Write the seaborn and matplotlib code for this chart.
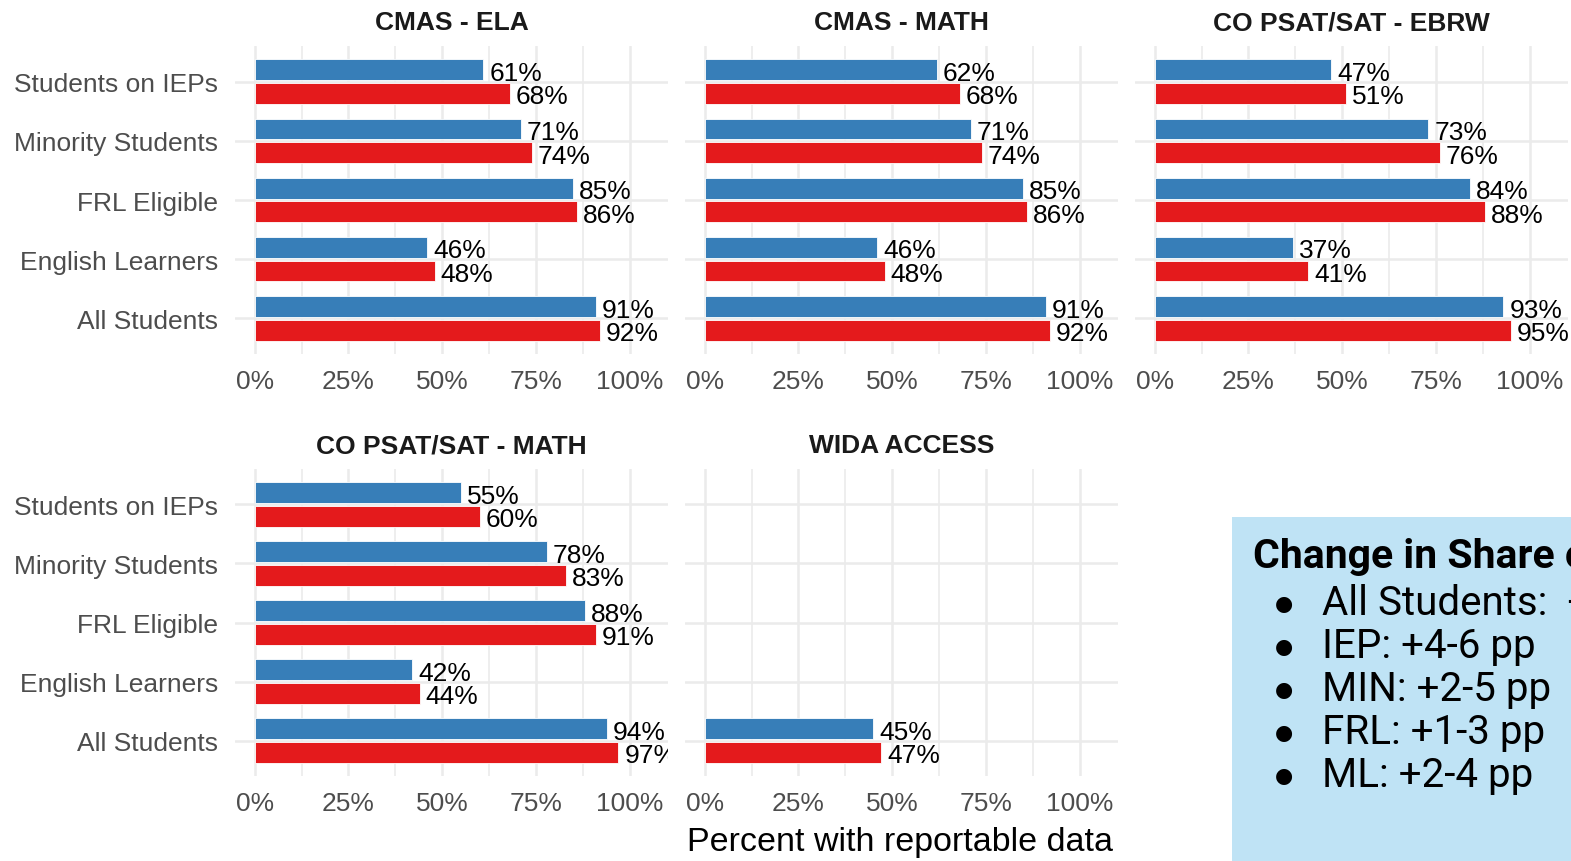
import matplotlib
matplotlib.use("Agg")
import numpy as np
import pandas as pd
import seaborn as sns
import matplotlib.pyplot as plt
from matplotlib.patches import Rectangle
from matplotlib.ticker import MultipleLocator, FuncFormatter

# ---------------- data ----------------
groups = ["Students on IEPs", "Minority Students", "FRL Eligible",
          "English Learners", "All Students"]
tests = ["CMAS - ELA", "CMAS - MATH", "CO PSAT/SAT - EBRW",
         "CO PSAT/SAT - MATH", "WIDA ACCESS"]
series = ["Prior", "Current"]

ela_prior = [61, 71, 85, 46, 91]
ela_current = [68, 74, 86, 48, 92]
math_prior = [62, 71, 85, 46, 91]
math_current = [68, 74, 86, 48, 92]
ebrw_prior = [47, 73, 84, 37, 93]
ebrw_current = [51, 76, 88, 41, 95]
satmath_prior = [55, 78, 88, 42, 94]
satmath_current = [60, 83, 91, 44, 97]
wida_groups = ["All Students"]
wida_prior = [45]
wida_current = [47]

box_title = "Change in Share of Students with Reportable Data"
box_items = ["All Students:  +1-3 pp", "IEP: +4-6 pp", "MIN: +2-5 pp",
             "FRL: +1-3 pp", "ML: +2-4 pp"]

x_ticks = [0, 25, 50, 75, 100]
x_label = "Percent with reportable data"

colors = ["#377EB8", "#E41A1C"]

# ---------------- build table ----------------
rows = []
def add(test, grp, prior, current):
    for g, p, c in zip(grp, prior, current):
        rows.append((test, g, series[0], p))
        rows.append((test, g, series[1], c))

add(tests[0], groups, ela_prior, ela_current)
add(tests[1], groups, math_prior, math_current)
add(tests[2], groups, ebrw_prior, ebrw_current)
add(tests[3], groups, satmath_prior, satmath_current)
add(tests[4], wida_groups, wida_prior, wida_current)
df = pd.DataFrame(rows, columns=["test", "group", "series", "pct"])

# ---------------- style ----------------
sns.set_theme(style="white")
plt.rcParams["font.family"] = ["Liberation Sans", "DejaVu Sans"]

W, H = 1571, 862
fig = plt.figure(figsize=(W / 100, H / 100), dpi=100)

lefts = [235, 685, 1135]
pw = 433
rows_px = [(47, 355), (470, 777)]

def px_axes(x0, y0, y1):
    return fig.add_axes([x0 / W, 1 - y1 / H, pw / W, (y1 - y0) / H])

positions = [(0, 0), (0, 1), (0, 2), (1, 0), (1, 1)]
fs = 19

for i, test in enumerate(tests):
    r, c = positions[i]
    ax = px_axes(lefts[c], rows_px[r][0], rows_px[r][1])
    sub = df[df["test"] == test]
    sns.barplot(data=sub, y="group", x="pct", hue="series", order=groups,
                hue_order=series, palette=colors, orient="h", width=0.8,
                gap=0.125, ax=ax, legend=False, saturation=1,
                edgecolor="white", linewidth=0.6)
    ax.set_xlim(-5.25, 110.25)
    ax.set_ylim(4.6, -0.6)
    ax.xaxis.set_major_locator(MultipleLocator(25))
    ax.xaxis.set_minor_locator(MultipleLocator(12.5))
    ax.xaxis.set_major_formatter(FuncFormatter(lambda v, p: f"{v:.0f}%"))
    ax.set_xticks(x_ticks)
    ax.grid(True, which="major", color="#EBEBEB", linewidth=1.8, zorder=0)
    ax.grid(True, which="minor", axis="x", color="#EBEBEB", linewidth=1.2, zorder=0)
    ax.set_axisbelow(True)
    for s in ax.spines.values():
        s.set_visible(False)
    ax.tick_params(axis="both", which="both", length=0, labelsize=fs,
                   labelcolor="#4D4D4D")
    ax.tick_params(axis="x", pad=11)
    ax.tick_params(axis="y", pad=12)
    ax.set_xlabel("")
    ax.set_ylabel("")
    if c != 0:
        ax.set_yticklabels([])
    ax.set_title(test, fontsize=19, fontweight="bold", color="#1A1A1A", pad=12)
    for cont in ax.containers:
        for bar in cont:
            w = bar.get_width()
            if np.isnan(w):
                continue
            yc = bar.get_y() + bar.get_height() / 2
            ax.text(w + 1.6, yc + 0.05, f"{w:.0f}%", ha="left", va="center",
                    fontsize=fs, color="black", clip_on=True)

fig.text(900 / W, 1 - 843 / H, x_label, ha="center", va="center",
         fontsize=24.5, color="black")

# ---------------- text box ----------------
fig.patches.append(Rectangle((1232 / W, 0), 1 - 1232 / W + 0.01, 1 - 518 / H,
                             transform=fig.transFigure, facecolor="#BFE3F5",
                             edgecolor="none", zorder=0))
fig.text(1253 / W, 1 - 568 / H, box_title, ha="left", va="baseline",
         fontsize=29.5, fontweight="bold", color="black",
         family=["Roboto", "DejaVu Sans"])
for k, item in enumerate(box_items):
    base = 615 + 43 * k
    fig.text(1284 / W, 1 - (base - 11) / H, "\u25CF", ha="center", va="center",
             fontsize=15, color="black", family=["DejaVu Sans"])
    fig.text(1322 / W, 1 - base / H, item, ha="left", va="baseline",
             fontsize=29, color="black", family=["Roboto", "DejaVu Sans"])

fig.savefig("out.png", dpi=100)
